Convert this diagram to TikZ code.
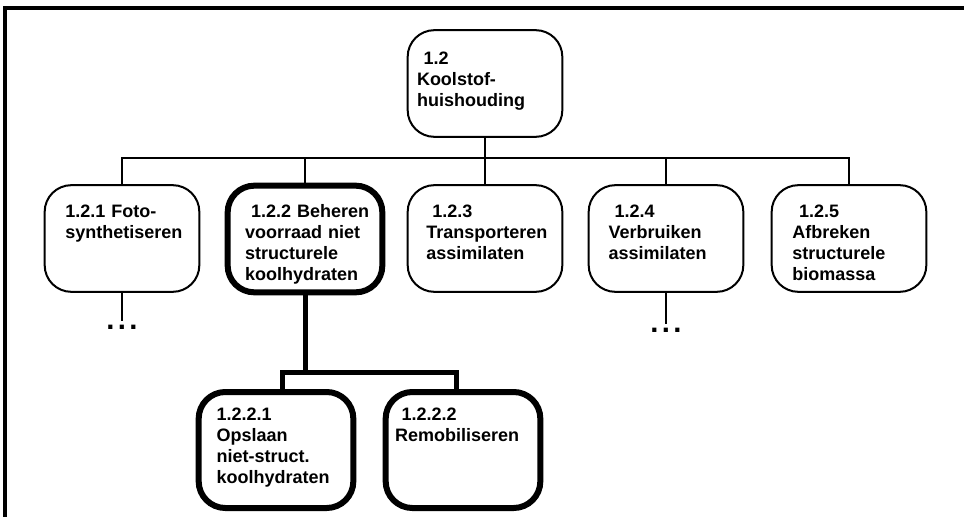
\documentclass[tikz,border=0pt]{standalone}
\usepackage{fontspec}
\setmainfont{Liberation Sans}
\usepackage{tikz}
\hyphenpenalty=10000
\exhyphenpenalty=10000

\begin{document}
\begin{tikzpicture}[x=0.75pt, y=-0.75pt,
    taak/.style={draw, rectangle, rounded corners=20pt, line width=1.5pt, minimum width=116pt, align=left, inner ysep=4pt, text height=20pt, text depth=52pt, font=\bfseries\fontsize{13.5}{15.8}\selectfont},
    dik/.style={line width=4.5pt},
    lijn/.style={line width=1.5pt},
    tak/.style={line width=3.75pt},
    punt/.style={inner sep=3pt, font=\bfseries\fontsize{22}{22}\selectfont}]
    \useasboundingbox (0,0) rectangle (964,517);

    % Frame
    \draw[line width=2.6pt] (5,517) -- (5,8) -- (964,8);

    % Top - 1.2 Koolstofhuishouding
    \node[taak, inner xsep=7pt, text width=102pt, text height=21.5pt, text depth=50.5pt] (wortel) at (485,83.5) {\hspace*{5pt}1.2\\Koolstof-\\huishouding};

    % Second row
    \node[taak, inner xsep=15.5pt, text width=85pt] (k1) at (122,238.5) {1.2.1 Foto-\\synthetiseren};
    \node[taak, dik, inner xsep=13pt, text width=90pt] (k2) at (305,239) {\hspace*{4.5pt}\mbox{1.2.2 Beheren}\\voorraad niet\\structurele\\koolhydraten};
    \node[taak, inner xsep=14pt, text width=88pt] (k3) at (485,238.5) {\hspace*{4.5pt}1.2.3\\Transporteren\\assimilaten};
    \node[taak, inner xsep=15pt, text width=86pt] (k4) at (666,238.5) {\hspace*{4.5pt}1.2.4\\Verbruiken\\assimilaten};
    \node[taak, inner xsep=15.5pt, text width=85pt] (k5) at (849,238.5) {\hspace*{5pt}1.2.5\\Afbreken\\structurele\\biomassa};

    % Third row - under 1.2.2
    \node[taak, dik, inner xsep=13.5pt, text width=89pt, text height=17pt, text depth=62pt] (kk1) at (276,450) {1.2.2.1\\Opslaan\\niet-struct.\\koolhydraten};
    \node[taak, dik, inner xsep=7pt, text width=102pt, text height=17pt, text depth=62pt] (kk2) at (463,450) {\hspace*{5pt}1.2.2.2\\Remobiliseren};

    % Dots
    \node[punt] (p1) at (122,327) {.\hspace{2.5pt}.\hspace{2.5pt}.};
    \node[punt] (p4) at (666,330) {.\hspace{2.5pt}.\hspace{2.5pt}.};

    % Connections
    \coordinate (bus) at (485,158);
    \draw[lijn] (wortel.south) -- (bus);
    \foreach \k in {k1,k2,k3,k4,k5}
        \draw[lijn] (\k.north) |- (bus);
    \draw[lijn, line width=1pt] (k1.south) -- (p1.north);
    \draw[lijn, line width=1pt] (k4.south) -- (p4.north);
    \coordinate (splits) at (305,372);
    \draw[tak] (k2.south) -- (splits);
    \draw[tak] ([xshift=5pt]kk1.north) |- (splits);
    \draw[tak] ([xshift=-5pt]kk2.north) |- (splits);
\end{tikzpicture}
\end{document}
